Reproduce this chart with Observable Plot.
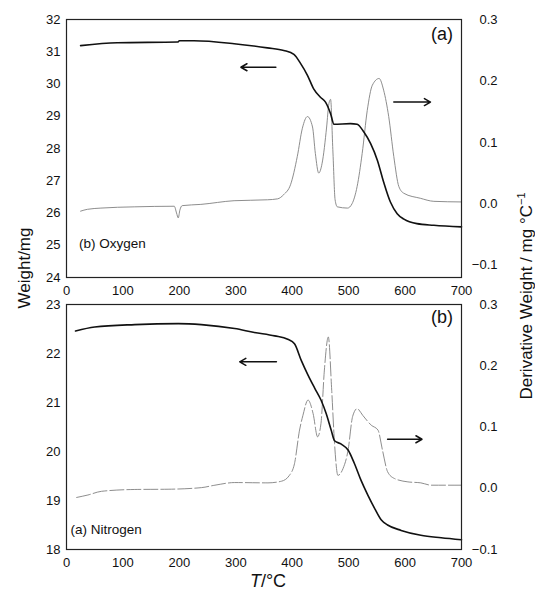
<!DOCTYPE html>
<html>
<head>
<meta charset="utf-8">
<script src="https://cdn.jsdelivr.net/npm/d3@7"></script>
<script src="https://cdn.jsdelivr.net/npm/@observablehq/plot@0.6"></script>
<style>
  body { margin: 0; background: #fff; font-family: "Liberation Sans", Arial, sans-serif; }
  #wrap { position: relative; width: 535px; height: 590px; overflow: hidden; }
  #wrap svg { position: absolute; left: 0; overflow: visible; }
  .lbl { position: absolute; white-space: nowrap; color: #111; }
  .rot { transform: translate(-50%, -50%) rotate(-90deg); }
</style>
</head>
<body>
<div id="wrap"></div>
<script>
// ---------- Panel (a) Oxygen ----------
const oxWeightT = [25, 90, 197, 200, 226, 297, 356, 385, 403, 415, 427, 438, 450, 459, 468, 474, 503, 515, 527, 539, 551, 562, 574, 586, 598, 621, 651, 700];
const oxWeight  = [31.19, 31.28, 31.30, 31.34, 31.34, 31.25, 31.12, 31.04, 30.92, 30.63, 30.27, 29.85, 29.59, 29.44, 29.08, 28.75, 28.77, 28.75, 28.51, 28.15, 27.63, 26.96, 26.34, 25.98, 25.81, 25.67, 25.62, 25.57];
const oxDerivT  = [25, 37, 61, 120, 191, 195, 198, 201, 205, 238, 297, 356, 374, 385, 397, 409, 418, 427, 436, 441, 447, 453, 461, 465, 468, 472, 476, 480, 498, 506, 515, 524, 533, 542, 554, 562, 571, 580, 589, 598, 627, 651, 700];
const oxDeriv   = [-0.012, -0.009, -0.007, -0.005, -0.004, -0.015, -0.023, -0.010, -0.003, -0.001, 0.005, 0.0065, 0.008, 0.015, 0.031, 0.077, 0.123, 0.142, 0.125, 0.082, 0.050, 0.066, 0.125, 0.163, 0.170, 0.088, 0.0065, -0.005, -0.007, 0.000, 0.028, 0.082, 0.152, 0.193, 0.204, 0.185, 0.142, 0.077, 0.028, 0.017, 0.009, 0.004, 0.003];

// ---------- Panel (b) Nitrogen ----------
const niWeightT = [16, 50, 121, 198, 239, 298, 333, 369, 392, 404, 416, 428, 440, 451, 460, 469, 475, 487, 499, 510, 522, 534, 546, 558, 569, 593, 628, 664, 700];
const niWeight  = [22.46, 22.54, 22.59, 22.61, 22.59, 22.51, 22.43, 22.36, 22.29, 22.20, 21.86, 21.56, 21.29, 21.05, 20.78, 20.44, 20.22, 20.15, 20.03, 19.76, 19.41, 19.11, 18.84, 18.60, 18.50, 18.39, 18.29, 18.24, 18.20];
const niDerivT  = [18, 38, 62, 121, 180, 239, 263, 298, 357, 381, 395, 404, 413, 419, 428, 437, 445, 451, 457, 464, 470, 475, 481, 490, 499, 507, 515, 525, 540, 552, 560, 569, 581, 605, 628, 646, 700];
const niDeriv   = [-0.015, -0.011, -0.005, -0.002, -0.0016, 0.001, 0.005, 0.0093, 0.0088, 0.0115, 0.021, 0.040, 0.095, 0.119, 0.144, 0.122, 0.084, 0.106, 0.193, 0.247, 0.160, 0.073, 0.021, 0.032, 0.062, 0.117, 0.130, 0.119, 0.103, 0.095, 0.062, 0.027, 0.016, 0.0104, 0.0088, 0.005, 0.005];

// ---------- axes ----------
const xTicks = [0, 100, 200, 300, 400, 500, 600, 700];
const oxWeightTicks = [24, 25, 26, 27, 28, 29, 30, 31, 32];
const niWeightTicks = [18, 19, 20, 21, 22, 23];
const derivTicks = [-0.1, 0.0, 0.1, 0.2, 0.3];

// ---------- annotations ----------
const oxArrows = [{x1: 371, x2: 309, y1: 30.52, y2: 30.52}, {x1: 580, x2: 645, y1: 29.44, y2: 29.44}];
const niArrows = [{x1: 372, x2: 307, y1: 21.83, y2: 21.83}, {x1: 569, x2: 630, y1: 20.25, y2: 20.25}];
const oxPanelTag = [{x: 685, y: 31.55, text: "(a)"}];
const oxGasTag   = [{x: 22, y: 25.05, text: "(b) Oxygen"}];
const niPanelTag = [{x: 685, y: 22.75, text: "(b)"}];
const niGasTag   = [{x: 7, y: 18.4, text: "(a) Nitrogen"}];

const fmtD = d => (d < 0 ? "\u2212" : "") + Math.abs(d).toFixed(1);

function panel(cfg) {
  const [w0, w1] = cfg.wDomain, [d0, d1] = cfg.dDomain;
  const toW = d => w0 + (d - d0) / (d1 - d0) * (w1 - w0);
  const toD = w => d0 + (w - w0) / (w1 - w0) * (d1 - d0);
  const wData = cfg.wT.map((t, i) => ({t, v: cfg.w[i]}));
  const dData = cfg.dT.map((t, i) => ({t, v: toW(cfg.d[i])}));
  const svg = Plot.plot({
    width: 535, height: cfg.height,
    marginLeft: 66, marginRight: 74, marginTop: cfg.mt, marginBottom: cfg.mb,
    style: {fontFamily: "Liberation Sans, Arial, sans-serif", fontSize: "13px", color: "#111", background: "transparent", overflow: "visible"},
    x: {domain: [0, 700]},
    y: {domain: [w0, w1]},
    marks: [
      Plot.axisX({ticks: xTicks, tickSize: 0, tickPadding: 8, label: null, fontSize: 13}),
      Plot.axisY({ticks: cfg.wTicks, tickSize: 0, tickPadding: 6, label: null, tickFormat: d3.format("d"), fontSize: 13}),
      Plot.axisY({ticks: derivTicks.map(toW), anchor: "right", tickSize: 0, tickPadding: 36, textAnchor: "end", label: null, tickFormat: w => fmtD(Math.round(toD(w) * 10) / 10), fontSize: 13}),
      Plot.line(dData, {x: "t", y: "v", stroke: "#808080", strokeWidth: 0.9, curve: "monotone-x", strokeDasharray: cfg.dash}),
      Plot.line(wData, {x: "t", y: "v", stroke: "#111", strokeWidth: 1.6, curve: "monotone-x"}),
      Plot.arrow(cfg.arrows, {x1: "x1", y1: "y1", x2: "x2", y2: "y2", stroke: "#111", strokeWidth: 1.5, headLength: 7}),
      Plot.text(cfg.panelTag, {x: "x", y: "y", text: "text", fontSize: 18, textAnchor: "end", fill: "#111"}),
      Plot.text(cfg.gasTag, {x: "x", y: "y", text: "text", fontSize: 13.5, textAnchor: "start", fill: "#111"}),
      Plot.frame({stroke: "#222", strokeWidth: 1.2})
    ]
  });
  svg.style.top = cfg.top + "px";
  return svg;
}

const wrap = document.getElementById("wrap");
wrap.appendChild(panel({
  top: 0, height: 304, mt: 19, mb: 27,
  wDomain: [24, 32], dDomain: [-0.12, 0.3], wTicks: oxWeightTicks,
  wT: oxWeightT, w: oxWeight, dT: oxDerivT, d: oxDeriv, dash: null,
  arrows: oxArrows, panelTag: oxPanelTag, gasTag: oxGasTag
}));
wrap.appendChild(panel({
  top: 296, height: 294, mt: 8, mb: 41,
  wDomain: [18, 23], dDomain: [-0.1, 0.3], wTicks: niWeightTicks,
  wT: niWeightT, w: niWeight, dT: niDerivT, d: niDeriv, dash: "14,3",
  arrows: niArrows, panelTag: niPanelTag, gasTag: niGasTag
}));

function addLabel(html, x, y, size, rot) {
  const el = document.createElement("div");
  el.className = "lbl" + (rot ? " rot" : "");
  el.style.left = x + "px"; el.style.top = y + "px";
  el.style.fontSize = size + "px";
  if (!rot) el.style.transform = "translate(-50%, -50%)";
  el.innerHTML = html;
  wrap.appendChild(el);
}
addLabel("Weight/mg", 25, 268, 17, true);
addLabel("Derivative Weight / mg\u00a0°C<sup style='font-size:11px'>\u22121</sup>", 526, 296, 17, true);
addLabel("<i>T</i>/°C", 268, 581, 18, false);
</script>
</body>
</html>
